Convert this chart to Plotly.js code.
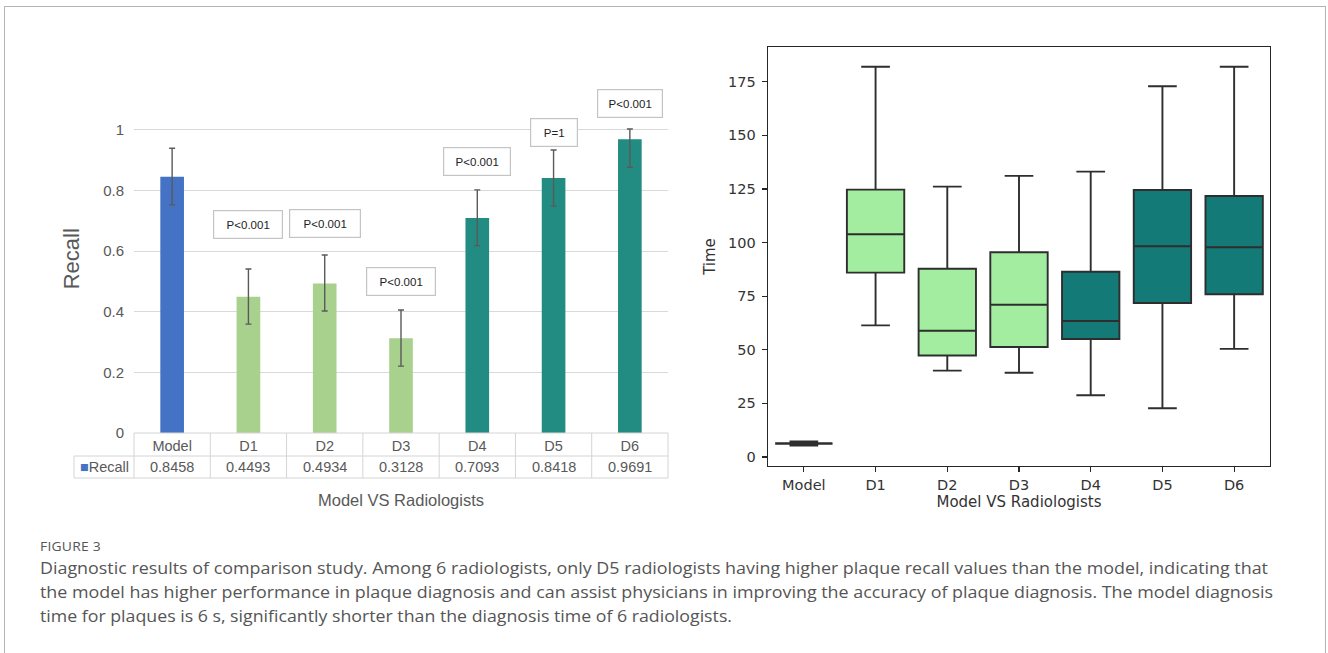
<!DOCTYPE html>
<html>
<head>
<meta charset="utf-8">
<script src="https://cdn.plot.ly/plotly-3.0.1.min.js"></script>
<style>
  body { margin: 0; background: #fff; }
  #wrap { position: relative; width: 1328px; height: 653px; overflow: hidden; background: #fff; }
  #chart { position: absolute; left: 0; top: 0; width: 1328px; height: 653px; }
  #frame { position: absolute; left: 4px; top: 6px; width: 1322px; height: 700px; box-sizing: border-box;
           border-top: 1px solid #b4b4b4; border-left: 1px solid #b4b4b4; border-right: 1px solid #b4b4b4; pointer-events: none; }
  .cap { position: absolute; left: 40px; white-space: nowrap; font-family: "Open Sans", "Noto Sans", sans-serif;
         color: #555; transform-origin: 0 50%; display: inline-block; }
  .figlab { font-size: 12px; letter-spacing: 0.2px; }
  .capline { font-size: 17px; }
</style>
</head>
<body>
<div id="wrap">
  <div id="chart"></div>
  <div id="frame"></div>
  <span class="cap figlab" id="c0" style="top:538px">FIGURE 3</span>
  <span class="cap capline" id="c1" style="top:556px">Diagnostic results of comparison study. Among 6 radiologists, only D5 radiologists having higher plaque recall values than the model, indicating that</span>
  <span class="cap capline" id="c2" style="top:580px">the model has higher performance in plaque diagnosis and can assist physicians in improving the accuracy of plaque diagnosis. The model diagnosis</span>
  <span class="cap capline" id="c3" style="top:604px">time for plaques is 6 s, significantly shorter than the diagnosis time of 6 radiologists.</span>
</div>
<script>
// ---------------- data ----------------
const categories = ['Model', 'D1', 'D2', 'D3', 'D4', 'D5', 'D6'];
const recall = [0.8458, 0.4493, 0.4934, 0.3128, 0.7093, 0.8418, 0.9691];
const recallErrPlus = [0.094, 0.092, 0.094, 0.093, 0.093, 0.092, 0.034];
const recallErrMinus = [0.093, 0.090, 0.091, 0.092, 0.091, 0.093, 0.092];
const pValueLabels = ['', 'P<0.001', 'P<0.001', 'P<0.001', 'P<0.001', 'P=1', 'P<0.001'];
const recallTicks = [0, 0.2, 0.4, 0.6, 0.8, 1];

const timeLowerFence = [5.5, 61.4, 40.3, 39.3, 28.8, 22.7, 50.4];
const timeQ1 = [6.3, 86.0, 47.3, 51.3, 55.0, 71.8, 75.9];
const timeMedian = [6.3, 103.9, 58.9, 71.0, 63.4, 98.3, 97.8];
const timeQ3 = [6.3, 124.7, 87.8, 95.5, 86.4, 124.5, 121.7];
const timeUpperFence = [7.1, 182.0, 126.1, 131.1, 133.1, 172.9, 182.0];
const timeTicks = [0, 25, 50, 75, 100, 125, 150, 175];

// groups: index sets
const groupModel = [0];
const groupLow = [1, 2, 3];
const groupHigh = [4, 5, 6];

// ---------------- styles ----------------
const barColors = { model: '#4472C4', low: '#A9D18E', high: '#238C82' };
const boxColors = { model: '#333333', low: '#A2ED9F', high: '#137A78' };
const grayText = '#595959';
const leftFont = 'Liberation Sans, Arial, sans-serif';
const rightFont = 'DejaVu Sans, sans-serif';
const darkText = '#333333';

const W = 1328, H = 653;
const leftX = [134 / W, 668 / W];
const leftY = [1 - 433 / H, 1 - 84.5 / H];
const rightX = [768 / W, 1270 / W];
const rightY = [1 - 466 / H, 1 - 47 / H];

function colorFor(i, pal) {
  if (groupModel.includes(i)) return pal.model;
  if (groupLow.includes(i)) return pal.low;
  return pal.high;
}

const barTrace = {
  type: 'bar', name: 'Recall', x: categories, y: recall,
  xaxis: 'x', yaxis: 'y', width: 0.31,
  marker: { color: categories.map((c, i) => colorFor(i, barColors)), line: { width: 0 } },
  error_y: { type: 'data', symmetric: false, array: recallErrPlus, arrayminus: recallErrMinus,
             color: '#5a5a5a', thickness: 1.4, width: 3 },
  showlegend: false, hoverinfo: 'x+y'
};

function boxTrace(idx, color, name, lw) {
  return {
    type: 'box', name: name, xaxis: 'x2', yaxis: 'y2',
    x: idx.map(i => categories[i]),
    q1: idx.map(i => timeQ1[i]), median: idx.map(i => timeMedian[i]), q3: idx.map(i => timeQ3[i]),
    lowerfence: idx.map(i => timeLowerFence[i]), upperfence: idx.map(i => timeUpperFence[i]),
    fillcolor: color, width: 0.8, whiskerwidth: 0.5,
    line: { color: '#2e2e2e', width: lw }, showlegend: false, boxpoints: false
  };
}

const traces = [
  barTrace,
  boxTrace(groupModel, boxColors.model, 'Model', 2.6),
  boxTrace(groupLow, boxColors.low, 'D1-D3', 1.9),
  boxTrace(groupHigh, boxColors.high, 'D4-D6', 1.9)
];

// ---------------- table under the bar chart ----------------
const rowTop = 1 - 433 / H, rowMid = 1 - 456 / H, rowBot = 1 - 478 / H;
const tableLeft = 74 / W;
const nCat = categories.length;
const catW = (leftX[1] - leftX[0]) / nCat;
const gridLine = { color: '#d4d4d4', width: 1 };
const shapes = [];
shapes.push({ type: 'line', xref: 'paper', yref: 'paper', x0: leftX[0], x1: leftX[1], y0: rowTop, y1: rowTop, line: gridLine });
shapes.push({ type: 'line', xref: 'paper', yref: 'paper', x0: tableLeft, x1: leftX[1], y0: rowMid, y1: rowMid, line: gridLine });
shapes.push({ type: 'line', xref: 'paper', yref: 'paper', x0: tableLeft, x1: leftX[1], y0: rowBot, y1: rowBot, line: gridLine });
shapes.push({ type: 'line', xref: 'paper', yref: 'paper', x0: tableLeft, x1: tableLeft, y0: rowMid, y1: rowBot, line: gridLine });
for (let i = 0; i <= nCat; i++) {
  const xp = leftX[0] + i * catW;
  shapes.push({ type: 'line', xref: 'paper', yref: 'paper', x0: xp, x1: xp, y0: rowTop, y1: rowBot, line: gridLine });
}

const annotations = [];
// value row
recall.forEach((v, i) => {
  annotations.push({ xref: 'x', yref: 'paper', x: categories[i], y: (rowMid + rowBot) / 2, yanchor: 'middle',
    text: v.toFixed(4), showarrow: false, font: { family: leftFont, size: 14.5, color: grayText } });
});
annotations.push({ xref: 'paper', yref: 'paper', x: (tableLeft + leftX[0]) / 2, y: (rowMid + rowBot) / 2,
  xanchor: 'center', yanchor: 'middle', showarrow: false,
  text: '<span style="color:' + barColors.model + '">■</span>Recall',
  font: { family: leftFont, size: 14.5, color: grayText } });

// p-value boxes (label anchor heights above bars)
const pLabelAnchor = [0, 0.688, 0.691, 0.50, 0.896, 0.992, 1.086];
const pLabelBoxW = [0, 68, 70, 68, 66, 46, 64];
pValueLabels.forEach((t, i) => {
  if (!t) return;
  annotations.push({ xref: 'x', yref: 'y', x: categories[i], y: pLabelAnchor[i], text: t, showarrow: false,
    width: pLabelBoxW[i], height: 27, bgcolor: '#ffffff', bordercolor: '#c4c4c4', borderwidth: 1.2, borderpad: 0,
    font: { family: leftFont, size: 11.5, color: '#222' } });
});

const layout = {
  width: W, height: H, autosize: false,
  margin: { l: 0, r: 0, t: 0, b: 0, pad: 0 },
  paper_bgcolor: 'rgba(0,0,0,0)', plot_bgcolor: '#ffffff',
  boxmode: 'overlay',
  showlegend: false,
  xaxis: {
    domain: leftX, anchor: 'y', type: 'category', categoryarray: categories, categoryorder: 'array',
    range: [-0.5, categories.length - 0.5],
    showgrid: false, showline: false, zeroline: false, ticks: '', ticklabelstandoff: 2,
    tickfont: { family: leftFont, size: 14.5, color: grayText }, automargin: false,
    title: { text: 'Model VS Radiologists', font: { family: leftFont, size: 16.5, color: grayText }, standoff: 41 }
  },
  yaxis: {
    domain: leftY, anchor: 'x', range: [0, 1.15], tickvals: recallTicks, ticktext: recallTicks.map(String),
    showgrid: true, gridcolor: '#d9d9d9', gridwidth: 1, zeroline: false, showline: false, ticks: '',
    ticklabelstandoff: 9, tickfont: { family: leftFont, size: 15, color: grayText }, automargin: false,
    title: { text: 'Recall', font: { family: leftFont, size: 22, color: grayText }, standoff: 17 }
  },
  xaxis2: {
    domain: rightX, anchor: 'y2', type: 'category', categoryarray: categories, categoryorder: 'array',
    range: [-0.5, categories.length - 0.5],
    showgrid: false, zeroline: false, showline: true, mirror: true, linecolor: '#262626', linewidth: 1.3,
    ticks: 'outside', ticklen: 5, tickwidth: 1.2, tickcolor: '#262626', ticklabelstandoff: 0,
    tickfont: { family: rightFont, size: 14.5, color: darkText }, automargin: false,
    title: { text: 'Model VS Radiologists', font: { family: rightFont, size: 15, color: darkText }, standoff: 3 }
  },
  yaxis2: {
    domain: rightY, anchor: 'x2', range: [-4.2, 191.2], tickvals: timeTicks, ticktext: timeTicks.map(String),
    showgrid: false, zeroline: false, showline: true, mirror: true, linecolor: '#262626', linewidth: 1.3,
    ticks: 'outside', ticklen: 5, tickwidth: 1.2, tickcolor: '#262626', ticklabelstandoff: 3,
    tickfont: { family: rightFont, size: 14.5, color: darkText }, automargin: false,
    title: { text: 'Time', font: { family: rightFont, size: 15, color: darkText }, standoff: 9 }
  },
  shapes: shapes,
  annotations: annotations
};

Plotly.newPlot('chart', traces, layout, { displayModeBar: false, staticPlot: true });

// fit caption lines to the reference widths
const capTargets = { c0: 61, c1: 1228, c2: 1233, c3: 692 };
Object.keys(capTargets).forEach(id => {
  const el = document.getElementById(id);
  const w = el.getBoundingClientRect().width;
  if (w > 0) el.style.transform = 'scaleX(' + (capTargets[id] / w) + ')';
});
</script>
</body>
</html>
